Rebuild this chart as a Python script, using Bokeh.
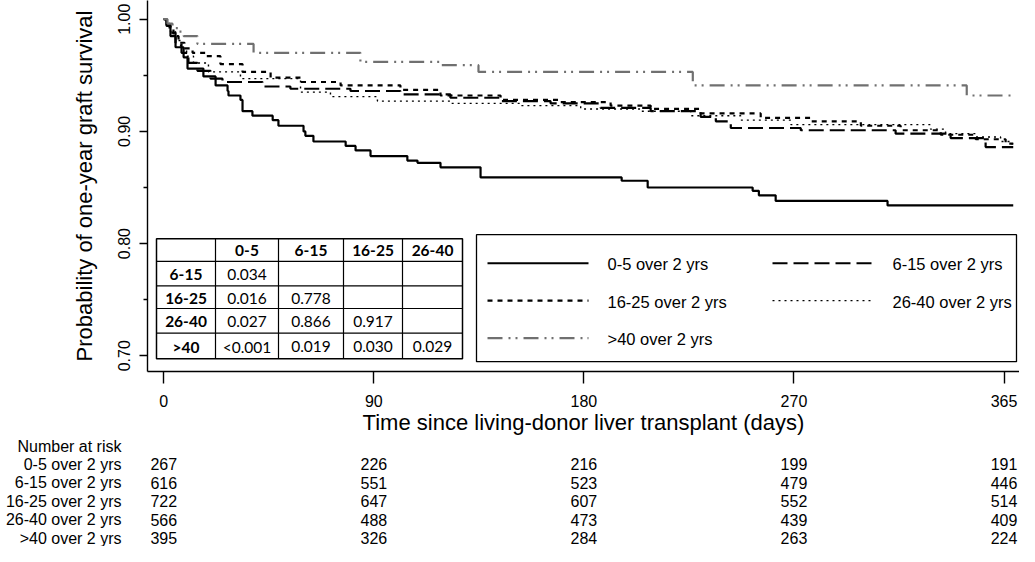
from bokeh.plotting import figure
from bokeh.layouts import column
from bokeh.models import Range1d, FixedTicker
from bokeh.core.properties import value
from bokeh.embed import file_html
from bokeh.resources import INLINE

# ---------------- data ----------------
groups = ["0-5 over 2 yrs", "6-15 over 2 yrs", "16-25 over 2 yrs", "26-40 over 2 yrs", ">40 over 2 yrs"]

t_0_5 = [0, 1.2, 2.9, 5.1, 8.6, 10.3, 17.2, 22.5, 27.7, 28.1, 33.3, 34.2, 38.5, 47.3, 49.8, 60.7, 61.5, 65.0,
         79.0, 83.3, 89.8, 105.8, 110.2, 120.2, 137.6, 198.9, 210.2, 255.8, 258.5, 265.8, 314.4, 369.0]
s_0_5 = [1.000, 0.994, 0.985, 0.975, 0.966, 0.956, 0.949, 0.941, 0.936, 0.932, 0.928, 0.918, 0.914, 0.910, 0.905,
         0.900, 0.896, 0.891, 0.887, 0.883, 0.878, 0.874, 0.872, 0.868, 0.859, 0.856, 0.850, 0.847, 0.843, 0.838,
         0.834, 0.834]

t_6_15 = [0, 1.2, 2.9, 5.1, 7.7, 10.7, 14.6, 20.3, 25.5, 42.9, 55.0, 81.1, 102.8, 124.5, 146.3, 168.0, 189.7,
          211.5, 233.2, 239.8, 246.3, 276.7, 317.9, 341.8, 357.0, 369.0]
s_6_15 = [1.000, 0.995, 0.988, 0.979, 0.970, 0.961, 0.954, 0.947, 0.944, 0.940, 0.938, 0.936, 0.933, 0.930,
          0.927, 0.925, 0.921, 0.918, 0.913, 0.909, 0.903, 0.901, 0.898, 0.894, 0.886, 0.886]

t_16_25 = [0, 1.2, 2.5, 4.2, 6.4, 9.0, 12.5, 18.1, 24.6, 34.2, 46.4, 59.4, 76.8, 102.8, 120.2, 146.3, 172.4,
           194.1, 211.5, 233.2, 259.3, 281.1, 302.8, 320.1, 337.5, 352.7, 365.7, 369.0]
s_16_25 = [1.000, 0.996, 0.991, 0.985, 0.979, 0.974, 0.970, 0.967, 0.960, 0.953, 0.948, 0.944, 0.941, 0.937,
           0.932, 0.928, 0.926, 0.923, 0.920, 0.916, 0.912, 0.909, 0.905, 0.901, 0.897, 0.893, 0.889, 0.889]

t_26_40 = [0, 1.2, 2.9, 5.1, 7.3, 9.9, 12.9, 19.4, 33.3, 59.4, 72.4, 92.8, 124.5, 155.0, 181.1, 207.1, 228.9,
           250.6, 272.4, 333.1, 339.6, 352.7, 363.5, 367.9, 369.0]
s_26_40 = [1.000, 0.995, 0.989, 0.981, 0.974, 0.967, 0.961, 0.953, 0.947, 0.935, 0.931, 0.927, 0.925, 0.923,
           0.920, 0.918, 0.914, 0.910, 0.906, 0.902, 0.898, 0.895, 0.891, 0.889, 0.889]

t_40 = [0, 1.6, 3.8, 6.4, 8.6, 14.6, 39.0, 85.4, 120.2, 136.7, 229.8, 348.8, 369.0]
s_40 = [1.000, 0.996, 0.992, 0.989, 0.985, 0.978, 0.970, 0.962, 0.959, 0.953, 0.941, 0.932, 0.932]

x_ticks = [0, 91.25, 182.5, 273.75, 365]
x_tick_labels = ["0", "90", "180", "270", "365"]
y_ticks = [0.70, 0.80, 0.90, 1.00]
y_minor_ticks = [0.75, 0.85, 0.95]
y_tick_labels = ["0.70", "0.80", "0.90", "1.00"]

risk_title = "Number at risk"
risk_times = [0, 91.25, 182.5, 273.75, 365]
risk_0_5 = [267, 226, 216, 199, 191]
risk_6_15 = [616, 551, 523, 479, 446]
risk_16_25 = [722, 647, 607, 552, 514]
risk_26_40 = [566, 488, 473, 439, 409]
risk_40 = [395, 326, 284, 263, 224]

table_cols = ["0-5", "6-15", "16-25", "26-40"]
table_rows = ["6-15", "16-25", "26-40", ">40"]
table_p = [["0.034", "", "", ""],
           ["0.016", "0.778", "", ""],
           ["0.027", "0.866", "0.917", ""],
           ["<0.001", "0.019", "0.030", "0.029"]]

# ---------------- layout (pixels of the picture) ----------------
W = 1019
H_TOP, H_BOT = 437, 109
FR_L, FR_R, FR_T, FR_B = 147, 1019, 0, 377       # frame edges of the main plot
X0, PXD = 163.3, 2.302                            # x pixel of day 0, px per day
Y1, PXU = 19.0, 1140.0                            # y pixel of 1.00, px per unit


def dx(px):
    return (px - X0) / PXD


def dy(py):
    return 1.0 - (py - Y1) / PXU


FONT = "Liberation Sans"
TFONT = "Lato"

p = figure(width=W, height=H_TOP, output_backend="svg", toolbar_location=None,
           x_range=Range1d(dx(FR_L), dx(FR_R)), y_range=Range1d(dy(FR_B), dy(FR_T)),
           min_border_left=FR_L, min_border_right=0, min_border_top=FR_T,
           min_border_bottom=H_TOP - FR_B)
p.outline_line_color = None
p.grid.visible = False
p.background_fill_color = "white"
p.border_fill_color = "white"

# axes
xa = p.xaxis[0]
xa.ticker = FixedTicker(ticks=x_ticks)
xa.major_label_overrides = {t: l for t, l in zip(x_ticks, x_tick_labels)}
xa.axis_label = "Time since living-donor liver transplant (days)"
xa.axis_line_width = 1.4
xa.major_tick_line_width = 1.4
xa.major_tick_out = 12
xa.major_tick_in = 0
xa.minor_tick_out = 0
xa.minor_tick_in = 0
xa.major_label_standoff = 11
xa.major_label_text_font = FONT
xa.major_label_text_font_size = "16px"
xa.major_label_text_color = "black"
xa.axis_label_text_font = FONT
xa.axis_label_text_font_size = "22px"
xa.axis_label_text_font_style = "normal"
xa.axis_label_text_color = "black"
xa.axis_label_standoff = 0

ya = p.yaxis[0]
ya.ticker = FixedTicker(ticks=y_ticks, minor_ticks=y_minor_ticks)
ya.major_label_overrides = {t: l for t, l in zip(y_ticks, y_tick_labels)}
ya.axis_label = "Probability of one-year graft survival"
ya.axis_line_width = 1.4
ya.major_tick_line_width = 1.4
ya.minor_tick_line_width = 1.4
ya.major_tick_out = 8
ya.major_tick_in = 0
ya.minor_tick_out = 4
ya.minor_tick_in = 0
ya.major_label_orientation = "vertical"
ya.major_label_standoff = 9
ya.major_label_text_font = FONT
ya.major_label_text_font_size = "16px"
ya.major_label_text_color = "black"
ya.axis_label_text_font = FONT
ya.axis_label_text_font_size = "22px"
ya.axis_label_text_font_style = "normal"
ya.axis_label_text_color = "black"
ya.axis_label_standoff = 19

# curve styles
styles = [
    dict(line_color="black", line_width=2.2, line_dash="solid"),
    dict(line_color="black", line_width=2.2, line_dash="15 6"),
    dict(line_color="black", line_width=2.2, line_dash="5 5"),
    dict(line_color="black", line_width=1.4, line_dash="2 4"),
    dict(line_color="#707070", line_width=2.2, line_dash="15 6 2 5 2 6"),
]
series = [(t_0_5, s_0_5), (t_6_15, s_6_15), (t_16_25, s_16_25), (t_26_40, s_26_40), (t_40, s_40)]
for (t, s), st in zip(series, styles):
    p.step(x=t, y=s, mode="after", **st)

# p-value table inset
tb_x = [156, 215, 278, 343, 402, 462]
tb_y = [242, 265, 290, 313, 338, 364]
p.quad(left=dx(tb_x[0]), right=dx(tb_x[-1]), top=dy(tb_y[0]), bottom=dy(tb_y[-1]),
       fill_color="white", line_color="black", line_width=1.5)
p.segment(x0=[dx(v) for v in tb_x[1:-1]], x1=[dx(v) for v in tb_x[1:-1]],
          y0=[dy(tb_y[0])] * 4, y1=[dy(tb_y[-1])] * 4, line_color="black", line_width=1.2)
p.segment(x0=[dx(tb_x[0])] * 4, x1=[dx(tb_x[-1])] * 4,
          y0=[dy(v) for v in tb_y[1:-1]], y1=[dy(v) for v in tb_y[1:-1]], line_color="black", line_width=1.2)
cx = [(tb_x[i] + tb_x[i + 1]) / 2 for i in range(5)]
cy = [(tb_y[i] + tb_y[i + 1]) / 2 + 1 for i in range(5)]
p.text(x=[dx(cx[i + 1]) for i in range(4)], y=[dy(cy[0])] * 4, text=table_cols,
       text_font=value(TFONT), text_font_style="bold", text_font_size="15.5px",
       text_align="center", text_baseline="middle", text_color="black")
p.text(x=[dx(cx[0])] * 4, y=[dy(cy[i + 1]) for i in range(4)], text=table_rows,
       text_font=value(TFONT), text_font_style="bold", text_font_size="15.5px",
       text_align="center", text_baseline="middle", text_color="black")
vx, vy, vt = [], [], []
for r in range(4):
    for c in range(4):
        if table_p[r][c]:
            vx.append(dx(cx[c + 1]))
            vy.append(dy(cy[r + 1]))
            vt.append(table_p[r][c])
p.text(x=vx, y=vy, text=vt, text_font=value(TFONT), text_font_size="15.5px",
       text_align="center", text_baseline="middle", text_color="black")

# legend box
lg_l, lg_r, lg_t, lg_b = 476, 1016, 238, 367
p.quad(left=dx(lg_l), right=dx(lg_r), top=dy(lg_t), bottom=dy(lg_b),
       fill_color="white", line_color="black", line_width=1.3)
col_x = [487, 772]
row_y = [267, 305, 343]
slots = [(0, 0), (1, 0), (0, 1), (1, 1), (0, 2)]
for name, st, (c, r) in zip(groups, styles, slots):
    x0 = col_x[c]
    p.line(x=[dx(x0), dx(x0 + 101)], y=[dy(row_y[r])] * 2, **st)
    p.text(x=[dx(x0 + 120)], y=[dy(row_y[r] + 1)], text=[name], text_font=value(FONT),
           text_font_size="16.5px", text_align="left", text_baseline="middle", text_color="black")

# ---------------- number-at-risk table (second panel, same day scale) ----------------
ROW0, ROWSTEP = 8.0, 18.5                      # pixel of the first row inside the panel, row spacing
top_val = -ROW0 / ROWSTEP
q = figure(width=W, height=H_BOT, output_backend="svg", toolbar_location=None,
           x_range=p.x_range, y_range=Range1d(top_val + H_BOT / ROWSTEP, top_val),
           x_axis_type=None,
           min_border_left=FR_L, min_border_right=0, min_border_top=0, min_border_bottom=0)
q.outline_line_color = None
q.grid.visible = False
q.background_fill_color = "white"
q.border_fill_color = "white"

qa = q.yaxis[0]
row_idx = list(range(6))
qa.ticker = FixedTicker(ticks=row_idx)
qa.major_label_overrides = {i: l for i, l in zip(row_idx, [risk_title] + groups)}
qa.axis_line_color = None
qa.major_tick_line_color = None
qa.minor_tick_line_color = None
qa.major_tick_out = 0
qa.major_tick_in = 0
qa.minor_tick_out = 0
qa.minor_tick_in = 0
qa.major_label_standoff = FR_L - 121
qa.major_label_text_font = FONT
qa.major_label_text_font_size = "16px"
qa.major_label_text_color = "black"

risk_rows = [risk_0_5, risk_6_15, risk_16_25, risk_26_40, risk_40]
nx, ny, nt = [], [], []
for i, vals in enumerate(risk_rows):
    for t, v in zip(risk_times, vals):
        nx.append(t)
        ny.append(i + 1)
        nt.append(str(v))
q.text(x=nx, y=ny, text=nt, text_font=value(FONT), text_font_size="16px",
       text_align="center", text_baseline="middle", text_color="black")

layout = column(p, q, spacing=0)
open("out.html", "w").write(file_html(layout, INLINE))
